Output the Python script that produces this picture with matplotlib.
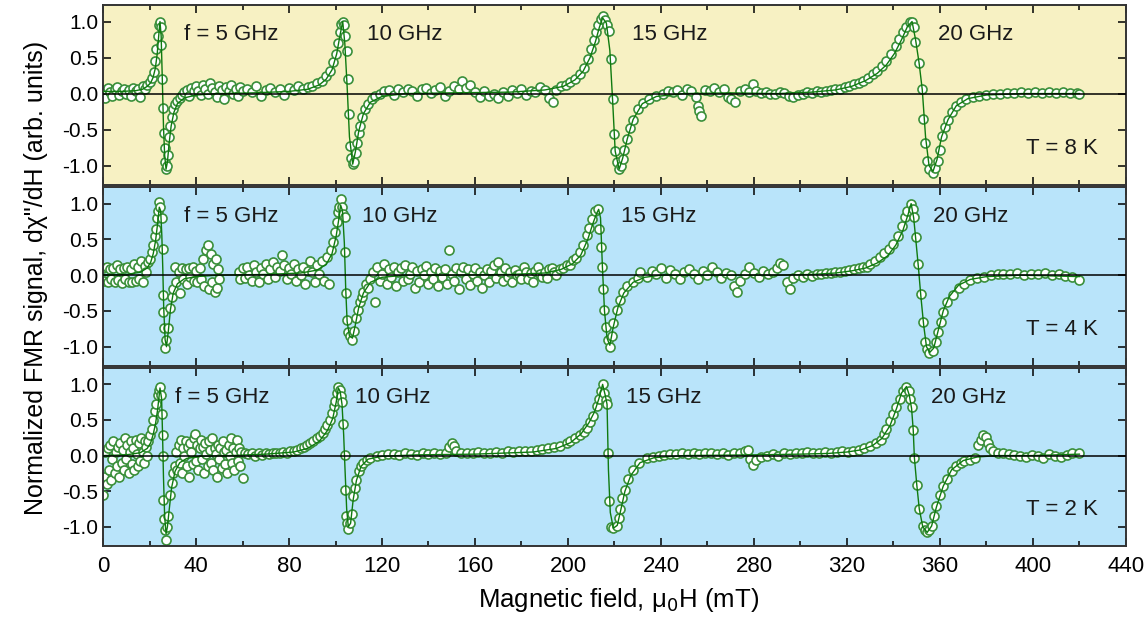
import matplotlib
matplotlib.use('Agg')
import matplotlib.pyplot as plt
from matplotlib.ticker import MultipleLocator

plt.rcParams['font.family'] = ['Liberation Sans', 'DejaVu Sans']

pts_8K = [(0, 0.05), (1, -0.06), (2, 0.08), (3, 0.02), (4, -0.04), (5, 0.06), (6, 0.09), (7, -0.02), (8, 0.04),
          (9, 0.07), (10, 0.0), (11, 0.05), (12, -0.03), (13, 0.08), (14, 0.03), (15, 0.06), (16, -0.05), (17, 0.1),
          (18, 0.07), (19, 0.12), (20, 0.16), (21, 0.22), (21.8, 0.3), (22.5, 0.45), (23, 0.62), (23.5, 0.8),
          (24, 0.95), (24.5, 1.0), (24.8, 0.92), (25.1, 0.68), (25.4, 0.2), (25.8, -0.2), (26.1, -0.55),
          (26.5, -0.75), (26.8, -0.95), (27.2, -1.05), (27.6, -1.0), (28, -0.85), (28.5, -0.6), (29, -0.45),
          (29.6, -0.32), (30.3, -0.22), (31, -0.15), (32, -0.1), (33, -0.06), (34, -0.02), (35, 0.02), (36, 0.05),
          (37, -0.04), (38, 0.08), (39, 0.03), (40, 0.1), (41, 0.04), (42, -0.02), (43, 0.12), (44, 0.06), (45, 0.0),
          (46, 0.15), (47, 0.08), (48, 0.02), (49, -0.05), (50, 0.1), (51, 0.05), (52, -0.08), (53, 0.09), (54, 0.03),
          (55, 0.12), (56, 0.0), (57, 0.06), (58, -0.03), (59, 0.09), (60, 0.04), (62, 0.07), (64, 0.02), (66, 0.1),
          (68, -0.04), (70, 0.05), (72, 0.08), (74, 0.02), (76, 0.06), (78, -0.02), (80, 0.08), (82, 0.05), (84, 0.1),
          (86, 0.06), (88, 0.09), (90, 0.11), (92, 0.14), (94, 0.18), (96, 0.24), (97.5, 0.32), (99, 0.44),
          (100, 0.55), (101, 0.7), (101.8, 0.85), (102.5, 0.96), (103.1, 1.0), (103.6, 0.95), (104.2, 0.8),
          (104.8, 0.59), (105.2, 0.2), (105.8, -0.29), (106.2, -0.73), (106.8, -0.9), (107.4, -0.98), (108, -0.95),
          (108.6, -0.82), (109.3, -0.68), (110, -0.55), (110.5, -0.45), (111.5, -0.33), (112.7, -0.22),
          (114, -0.14), (115.5, -0.07), (117, -0.04), (119, 0.0), (121, 0.03), (123, 0.05), (125, -0.02), (127, 0.06),
          (129, 0.02), (131, 0.07), (133, 0.04), (135, -0.03), (137, 0.06), (139, 0.08), (141, 0.01), (143, 0.05),
          (145, 0.09), (147, -0.04), (149, 0.03), (151, 0.1), (153, 0.06), (154.5, 0.18), (156, 0.08), (158, 0.12),
          (160, 0.02), (162, -0.05), (164, 0.04), (166, -0.03), (168, 0.0), (170, -0.06), (172, 0.02), (174, -0.04),
          (176, 0.05), (178, 0.01), (180, 0.07), (182, -0.02), (184, 0.04), (186, 0.02), (188, 0.09), (190, 0.05),
          (192, -0.06), (193.5, -0.12), (195, 0.05), (197, 0.1), (199, 0.12), (201, 0.16), (203, 0.2), (205, 0.27),
          (207, 0.36), (208.5, 0.48), (210, 0.62), (211, 0.74), (212, 0.86), (213, 0.95), (214, 1.04), (214.9, 1.08),
          (215.8, 1.02), (216.7, 0.95), (217.6, 0.87), (218.4, 0.48), (219.2, -0.08), (219.6, -0.56), (220.3, -0.8),
          (220.9, -0.95), (222, -1.05), (222.8, -1.0), (223.5, -0.91), (224.3, -0.78), (225.2, -0.63),
          (226.5, -0.48), (228, -0.36), (230, -0.22), (232.4, -0.13), (235, -0.07), (238, -0.03), (241, 0.0),
          (243, 0.04), (245, 0.02), (247, 0.05), (249, -0.02), (251, 0.06), (253, 0.03), (255, -0.05), (256, -0.17),
          (256.5, -0.24), (257, -0.31), (259, 0.05), (261, 0.03), (263, 0.08), (265, 0.02), (267, 0.06), (269, -0.05),
          (270, -0.08), (272, -0.12), (274, 0.04), (276, 0.07), (278, 0.02), (279.6, 0.13), (281, 0.03), (283, 0.01),
          (285, 0.02), (287, -0.01), (289, 0.0), (291, 0.02), (293, 0.01), (295, -0.03), (297, -0.05), (299, -0.02),
          (301, 0.0), (303, 0.02), (305, 0.01), (307, 0.03), (309, 0.02), (311, 0.04), (313, 0.05), (315, 0.06),
          (317, 0.07), (319, 0.09), (321, 0.11), (323, 0.13), (325, 0.15), (327, 0.18), (329, 0.22), (331, 0.27),
          (333, 0.32), (335, 0.38), (337, 0.45), (339, 0.55), (341, 0.66), (342.5, 0.76), (344, 0.85), (345.5, 0.93),
          (347, 0.99), (348, 1.0), (348.7, 0.92), (349.3, 0.72), (351, 0.43), (352.4, 0.06), (352.8, -0.35),
          (353.5, -0.68), (354.5, -0.94), (355.5, -1.05), (357, -1.1), (358, -1.04), (359.1, -0.94), (360, -0.78),
          (360.7, -0.59), (362, -0.47), (363.5, -0.36), (365, -0.26), (367, -0.17), (369, -0.12), (371.4, -0.08),
          (374, -0.05), (377, -0.03), (380, -0.02), (383, -0.01), (386, 0.0), (389, 0.01), (392, 0.01), (395, 0.02),
          (398, 0.01), (401, 0.02), (404, 0.01), (407, 0.02), (410, 0.01), (413, 0.02), (416, 0.01), (419, 0.01),
          (420, 0.0)]

pts_4K = [(0, 0.1), (0.5, -0.08), (1.5, 0.12), (2, -0.1), (3, 0.08), (3.5, -0.06), (4.5, 0.1), (5, -0.1), (6, 0.14),
          (6.5, -0.07), (7.5, 0.09), (8, -0.11), (9, 0.1), (9.5, -0.05), (10.5, 0.12), (11, -0.09), (12, 0.08),
          (12.5, -0.1), (13.5, 0.15), (14, -0.08), (15, 0.11), (15.5, -0.06), (16.5, 0.2), (17, -0.09), (18, 0.13),
          (18.5, 0.05), (19.3, 0.18), (20.2, 0.23), (21, 0.32), (21.6, 0.42), (22.3, 0.55), (22.8, 0.65),
          (23.4, 0.8), (23.8, 0.9), (24.2, 1.02), (24.7, 0.95), (25.2, 0.8), (25.6, 0.37), (25.8, -0.28),
          (26, -0.51), (26.3, -0.74), (26.7, -1.02), (27.2, -0.9), (28.1, -0.74), (28.8, -0.46), (29.5, -0.3),
          (30.2, -0.19), (31, 0.12), (31.5, -0.1), (32.5, 0.05), (33, -0.25), (34, 0.1), (34.5, -0.05), (35.5, 0.08),
          (36, -0.12), (37, 0.1), (37.5, -0.03), (38.5, 0.12), (39, -0.08), (40, 0.06), (40.5, -0.1), (41.5, 0.1),
          (42, -0.05), (43, 0.22), (43.5, -0.15), (44.5, 0.35), (45, 0.42), (45.5, -0.2), (46.5, 0.3), (47, -0.1),
          (47.5, 0.15), (48, -0.23), (48.5, 0.22), (49, -0.18), (49.5, 0.08), (50, -0.05), (58.5, 0.05),
          (59, -0.06), (60, 0.1), (61, -0.04), (62, 0.12), (63, 0.0), (64, -0.08), (65, 0.14), (66, 0.04), (67, -0.1),
          (68, 0.1), (69, 0.02), (70, 0.16), (71, -0.05), (72, 0.08), (73, 0.18), (74, -0.02), (75, 0.12), (76, 0.06),
          (76.8, 0.28), (78, 0.14), (79, -0.06), (80, 0.1), (81, 0.02), (82, 0.15), (83, -0.08), (84, 0.08), (85, 0.0),
          (86, 0.12), (87, -0.12), (88, 0.06), (89, 0.2), (90, 0.04), (91, -0.1), (92, 0.14), (93, 0.02), (94, 0.2),
          (95, -0.08), (96.2, 0.25), (97, -0.12), (98, 0.35), (99, 0.46), (99.8, 0.6), (100.5, 0.74), (101.2, 0.88),
          (101.7, 0.95), (102.2, 1.06), (102.8, 0.95), (103.4, 0.86), (104, 0.81), (104.2, 0.32), (104.5, -0.25),
          (104.8, -0.63), (105.5, -0.79), (106.3, -0.85), (107.3, -0.9), (108, -0.78), (109, -0.6), (109.8, -0.48),
          (110.5, -0.37), (111.2, -0.3), (112, -0.23), (113, -0.12), (114, -0.18), (115, -0.05), (116, 0.04),
          (117, -0.37), (118, 0.12), (119, -0.08), (120, 0.02), (121, 0.15), (122, -0.12), (123, 0.08), (124, -0.02),
          (125, 0.12), (126, -0.15), (127, 0.05), (128, 0.1), (129, -0.08), (130, 0.14), (131, -0.05), (132, 0.02),
          (133, 0.12), (134, -0.18), (135, 0.06), (136, -0.1), (137, 0.08), (138, 0.0), (139, 0.13), (140, -0.12),
          (141, 0.04), (142, -0.06), (143, 0.1), (144, -0.15), (145, 0.06), (146, -0.02), (147, 0.09), (148, -0.12),
          (149, 0.35), (150, 0.02), (151, -0.08), (152, 0.1), (153, -0.2), (154, 0.04), (155, 0.12), (156, -0.06),
          (157, 0.08), (158, -0.14), (159, 0.02), (160, 0.1), (161, -0.08), (162, 0.05), (163, -0.18), (164, 0.0),
          (165, 0.08), (166, -0.1), (167, 0.06), (168, 0.14), (169, -0.04), (170, 0.18), (171, 0.04), (172, -0.08),
          (173, 0.1), (174, -0.03), (175, 0.05), (176, -0.1), (177, 0.07), (178, 0.0), (179, 0.02), (180, -0.06),
          (181, 0.12), (182, 0.04), (183, -0.05), (184, 0.03), (185, -0.1), (186, 0.06), (187, 0.12), (188, 0.02),
          (189, -0.02), (190, 0.05), (191, -0.04), (192, 0.08), (193, 0.1), (194, 0.05), (195, 0.0), (196.6, 0.09),
          (198, 0.1), (199.5, 0.14), (201, 0.14), (202.3, 0.21), (203.5, 0.24), (205.2, 0.32), (206.5, 0.42),
          (208, 0.56), (209, 0.66), (210.2, 0.79), (211.6, 0.9), (213, 0.93), (213.5, 0.65), (214.2, 0.4),
          (214.8, 0.12), (215.2, -0.2), (215.5, -0.49), (216.2, -0.72), (217, -0.9), (218, -1.0), (218.8, -0.85),
          (219.5, -0.67), (221, -0.49), (222.3, -0.35), (223.8, -0.23), (225.5, -0.15), (228, -0.09), (230, -0.04),
          (231, 0.05), (233.8, -0.02), (236, 0.06), (238, 0.02), (240, 0.1), (242, -0.04), (244, 0.07), (246, 0.02),
          (248, -0.06), (250, 0.04), (252, 0.08), (254, 0.01), (256, -0.05), (258, 0.06), (260, 0.0), (262, 0.12),
          (264, 0.05), (266, -0.04), (268, 0.03), (270, 0.0), (271.5, -0.15), (272.5, -0.23), (274, -0.08),
          (276, 0.02), (278, 0.12), (280, 0.03), (282, -0.02), (284, 0.06), (286, 0.02), (288, 0.04), (290, 0.1),
          (291, 0.17), (292.6, 0.14), (294, -0.1), (295.5, -0.19), (297, -0.04), (299, 0.0), (301, -0.02),
          (303, 0.01), (305, -0.01), (307, 0.02), (309, 0.02), (311, 0.03), (313, 0.03), (315, 0.04), (317, 0.05),
          (319, 0.06), (321, 0.07), (323, 0.08), (325, 0.1), (327, 0.11), (328.5, 0.12), (330, 0.16), (332, 0.2),
          (334.2, 0.25), (336, 0.31), (338, 0.37), (340, 0.44), (341.8, 0.55), (343.5, 0.69), (345, 0.82), (346, 0.9),
          (347.4, 1.0), (348.2, 0.92), (348.8, 0.81), (349.5, 0.53), (350.7, 0.15), (351.7, -0.27), (352.8, -0.65),
          (353.5, -0.93), (354.5, -1.03), (355.4, -1.09), (357, -1.06), (358.2, -0.94), (359.3, -0.79),
          (360.3, -0.65), (361.4, -0.51), (363, -0.38), (365.6, -0.28), (368, -0.18), (370.5, -0.12), (372.9, -0.07),
          (376, -0.04), (379, -0.02), (382, 0.0), (385, 0.01), (387.2, 0.02), (390, 0.01), (393, 0.03), (396, 0.0),
          (399, 0.02), (402, 0.01), (405, 0.03), (408, 0.0), (411, 0.01), (414, -0.01), (417, -0.03), (419.9, -0.07)]

pts_2K = [(0, -0.55), (0.5, -0.3), (1, 0.05), (1.5, -0.4), (2, 0.1), (2.5, -0.2), (3, 0.15), (3.5, -0.35), (4, -0.05),
          (4.5, 0.2), (5, -0.25), (5.5, 0.05), (6, -0.15), (6.5, 0.12), (7, -0.3), (7.5, 0.18), (8, -0.1), (8.5, 0.08),
          (9, -0.2), (9.5, 0.24), (10, -0.05), (10.5, 0.15), (11, -0.25), (11.5, 0.05), (12, 0.2), (12.5, -0.12),
          (13, 0.1), (13.5, -0.2), (14, 0.22), (14.5, 0.02), (15, -0.15), (15.5, 0.18), (16, -0.08), (16.5, 0.25),
          (17, 0.05), (17.5, -0.1), (18, 0.2), (18.5, 0.12), (19, 0.0), (19.5, 0.2), (20.2, 0.29), (21, 0.38),
          (21.6, 0.5), (22.3, 0.62), (23, 0.73), (23.6, 0.85), (24.1, 0.92), (24.5, 0.96), (25, 0.85), (25.4, 0.59),
          (25.6, 0.29), (25.8, 0.0), (26, -0.62), (26.2, -0.89), (26.6, -1.05), (27.1, -1.19), (27.6, -1.0),
          (28.1, -0.85), (28.8, -0.55), (29.5, -0.38), (30.2, -0.25), (31, -0.15), (31.5, 0.05), (32, -0.2),
          (32.5, 0.15), (33, -0.1), (33.5, 0.22), (34, -0.25), (34.5, 0.1), (35, 0.0), (35.5, 0.2), (36, -0.15),
          (36.5, 0.12), (37, -0.3), (37.5, 0.18), (38, 0.05), (38.5, -0.12), (39, 0.25), (39.6, 0.31), (40, -0.08),
          (40.5, 0.15), (41, -0.2), (41.5, 0.1), (42, 0.22), (42.5, -0.05), (43, 0.12), (43.5, -0.25), (44, 0.18),
          (44.5, 0.02), (45, -0.15), (45.5, 0.2), (46, 0.08), (46.5, -0.1), (47, 0.25), (47.5, -0.2), (48, 0.1),
          (48.5, 0.02), (49, -0.3), (49.5, 0.15), (50, -0.05), (50.5, 0.1), (51, -0.18), (51.5, 0.2), (52, 0.05),
          (52.5, -0.12), (53, 0.08), (53.5, -0.25), (54, 0.15), (54.5, 0.0), (55, 0.25), (55.5, -0.1), (56, 0.1),
          (56.5, -0.2), (57, 0.05), (57.5, 0.22), (58, -0.08), (58.5, 0.1), (59, -0.15), (59.5, 0.05), (60.3, -0.31),
          (61, 0.04), (62.5, 0.02), (64, 0.03), (65.5, 0.0), (67, 0.03), (68.5, 0.01), (70, 0.04), (71.5, 0.02),
          (73, 0.03), (74.5, 0.04), (76, 0.03), (77.5, 0.05), (79, 0.04), (80.5, 0.06), (82, 0.07), (83.5, 0.08),
          (85, 0.1), (86.5, 0.12), (87.6, 0.15), (89, 0.18), (90.5, 0.21), (92, 0.24), (93.3, 0.28), (94.5, 0.32),
          (95.5, 0.37), (96.5, 0.43), (97.6, 0.5), (98.5, 0.6), (99.2, 0.7), (99.8, 0.77), (100.5, 0.88),
          (101.2, 0.96), (101.8, 0.92), (102.2, 0.84), (102.6, 0.75), (103.3, 0.45), (104, 0.01), (104.2, -0.48),
          (104.5, -0.85), (105, -0.95), (105.5, -1.03), (106.2, -0.95), (106.9, -0.82), (107.6, -0.57),
          (108.3, -0.45), (109, -0.34), (110, -0.22), (111, -0.15), (111.9, -0.11), (113.5, -0.06), (115, -0.04),
          (117.7, -0.01), (120, 0.01), (122.5, 0.02), (125, 0.02), (127.5, 0.01), (130, 0.03), (132.5, 0.02),
          (135, 0.01), (137.5, 0.03), (140, 0.02), (142.5, 0.03), (145, 0.02), (147.5, 0.04), (149, 0.12),
          (150, 0.17), (151, 0.14), (152, 0.06), (154, 0.03), (156.5, 0.04), (159, 0.03), (161.5, 0.05), (164, 0.04),
          (166.5, 0.03), (169, 0.05), (171.5, 0.04), (174, 0.06), (176.5, 0.05), (179, 0.06), (181.5, 0.07),
          (184, 0.06), (186.5, 0.08), (189, 0.09), (191.5, 0.1), (194, 0.12), (196.5, 0.14), (199.4, 0.17),
          (201, 0.2), (203, 0.24), (205.2, 0.29), (206.8, 0.33), (208, 0.39), (209.5, 0.47), (210.8, 0.56),
          (212.3, 0.7), (213.2, 0.8), (214, 0.91), (214.9, 1.0), (215.6, 0.88), (216.2, 0.78), (216.6, 0.73),
          (217, 0.04), (217.5, -0.64), (218.4, -1.01), (219.5, -1.02), (221.2, -0.99), (221.8, -0.88),
          (222.4, -0.75), (223.4, -0.6), (224.5, -0.48), (226, -0.33), (228, -0.2), (230.5, -0.1), (233.8, -0.04),
          (236.5, -0.02), (239, 0.0), (241.5, 0.01), (244, 0.02), (246.5, 0.02), (249, 0.03), (251.5, 0.02),
          (254, 0.03), (256.5, 0.02), (259, 0.03), (261.5, 0.04), (264, 0.02), (266.5, 0.03), (269, 0.01),
          (271.5, 0.03), (274, 0.04), (276, 0.06), (277.5, 0.08), (278.5, -0.05), (279.7, -0.13), (281, -0.06),
          (283, -0.02), (285.5, 0.0), (288, 0.02), (290.5, 0.0), (293, 0.03), (295.5, 0.02), (298, 0.04),
          (300.5, 0.03), (303, 0.05), (305.5, 0.04), (308, 0.03), (310.5, 0.05), (313, 0.04), (315.5, 0.05),
          (318, 0.06), (320.5, 0.05), (322.7, 0.06), (325, 0.08), (327.5, 0.1), (330, 0.13), (332.7, 0.17),
          (334.5, 0.22), (336, 0.3), (337, 0.38), (338.5, 0.48), (340, 0.58), (341.3, 0.68), (342.8, 0.8),
          (344.2, 0.91), (345.6, 0.97), (346.5, 0.9), (347.2, 0.8), (347.8, 0.68), (348.5, 0.36), (348.9, -0.03),
          (350, -0.41), (351.1, -0.75), (352.6, -0.99), (353.5, -1.05), (354.5, -1.08), (355.5, -1.05),
          (356.4, -0.99), (357.5, -0.85), (358.5, -0.71), (360, -0.56), (361.4, -0.43), (363, -0.33), (365, -0.22),
          (367.1, -0.15), (369, -0.11), (370.5, -0.08), (372.9, -0.06), (375, -0.03), (376.5, 0.15), (377.5, 0.22),
          (378.6, 0.29), (379.8, 0.26), (380.5, 0.18), (381.5, 0.1), (383, 0.06), (385, 0.04), (387.2, 0.03),
          (389.5, 0.02), (392, 0.01), (394.5, 0.0), (397, -0.02), (399.5, 0.01), (402, 0.0), (404.5, -0.03),
          (407, 0.02), (409.5, 0.0), (412, -0.02), (414.5, 0.01), (417, 0.03), (420, 0.03)]

# fitted curves (thin line)
fit_8K = [(0, 0.03), (8, 0.03), (14, 0.04), (17, 0.06), (19, 0.1), (20.5, 0.15), (21.5, 0.22), (22.5, 0.35),
          (23.3, 0.55), (24, 0.82), (24.5, 1.0), (25, 0.8), (25.5, 0.2), (26, -0.45), (26.5, -0.85), (27.1, -1.05),
          (27.7, -0.95), (28.4, -0.7), (29.3, -0.45), (30.5, -0.26), (32, -0.14), (35, -0.06), (40, -0.02),
          (50, 0.0), (65, 0.01), (80, 0.03), (88, 0.06), (93, 0.12), (96, 0.2), (98.5, 0.33), (100.5, 0.55),
          (102, 0.82), (103.1, 1.0), (104, 0.7), (105, 0.1), (106, -0.6), (107.4, -0.98), (108.6, -0.8),
          (110, -0.52), (112, -0.28), (115, -0.12), (120, -0.04), (130, 0.0), (150, 0.01), (175, 0.02), (190, 0.05),
          (198, 0.1), (203, 0.19), (206.5, 0.31), (209.5, 0.5), (211.8, 0.72), (213.5, 0.92), (214.9, 1.05),
          (216.5, 0.98), (218, 0.6), (219.2, -0.1), (220.3, -0.8), (222, -1.05), (223.5, -0.9), (225.5, -0.63),
          (228, -0.36), (232, -0.14), (238, -0.04), (250, 0.0), (270, 0.01), (290, 0.0), (305, 0.02), (315, 0.05),
          (322, 0.1), (328, 0.18), (333, 0.28), (337, 0.4), (340.5, 0.56), (343.5, 0.75), (346, 0.93), (348, 1.0),
          (349.5, 0.75), (351, 0.43), (352.4, 0.05), (353.8, -0.6), (355.3, -1.0), (357, -1.08), (358.7, -0.92),
          (360.7, -0.6), (363.5, -0.36), (367, -0.17), (372, -0.07), (380, -0.02), (395, 0.0), (420, 0.0)]

fit_4K = [(0, 0.0), (10, 0.01), (16, 0.04), (19, 0.1), (20.5, 0.18), (21.6, 0.3), (22.6, 0.48), (23.4, 0.7),
          (24.2, 0.95), (24.8, 0.9), (25.3, 0.55), (25.7, 0.1), (26.1, -0.45), (26.7, -0.9), (27.3, -1.0),
          (28.1, -0.78), (29, -0.48), (30.2, -0.25), (32, -0.12), (35, -0.05), (40, -0.02), (50, 0.0), (70, 0.01),
          (85, 0.03), (92, 0.07), (96, 0.15), (98.5, 0.3), (100.3, 0.55), (101.5, 0.8), (102.2, 0.98), (103, 0.9),
          (103.8, 0.45), (104.4, -0.2), (105, -0.65), (106, -0.85), (107.3, -0.88), (108.5, -0.7), (110, -0.45),
          (112, -0.25), (115, -0.1), (120, -0.03), (130, 0.0), (150, 0.0), (175, 0.01), (190, 0.03), (197, 0.08),
          (202, 0.16), (205.5, 0.28), (208.5, 0.5), (210.8, 0.73), (212.3, 0.86), (213.2, 0.92), (214, 0.8),
          (214.8, 0.12), (215.7, -0.5), (216.8, -0.88), (218, -0.98), (219.5, -0.72), (221.5, -0.45), (224, -0.25),
          (228, -0.1), (233, -0.03), (240, 0.0), (260, 0.0), (290, 0.0), (305, 0.01), (315, 0.03), (322, 0.06),
          (328, 0.1), (333, 0.17), (337.5, 0.27), (341, 0.42), (344, 0.62), (346.3, 0.85), (347.6, 1.0),
          (348.7, 0.8), (349.6, 0.5), (350.7, 0.12), (351.8, -0.3), (353, -0.7), (354.2, -1.0), (355.6, -1.08),
          (357.3, -1.02), (359.2, -0.78), (361.4, -0.5), (364, -0.3), (368, -0.14), (373, -0.06), (380, -0.02),
          (395, 0.0), (420, -0.02)]

fit_2K = [(0, 0.0), (10, 0.01), (16, 0.04), (19, 0.1), (20.5, 0.18), (21.6, 0.3), (22.6, 0.45), (23.5, 0.65),
          (24.5, 0.95), (25.2, 0.8), (25.6, 0.3), (26, -0.3), (26.5, -0.85), (27.1, -1.1), (27.7, -1.0),
          (28.5, -0.75), (29.5, -0.45), (31, -0.22), (33, -0.1), (36, -0.04), (42, -0.01), (55, 0.0), (70, 0.02),
          (82, 0.05), (88, 0.1), (93, 0.2), (96.5, 0.35), (98.8, 0.52), (100.3, 0.75), (101.2, 0.95), (102, 0.9),
          (102.8, 0.72), (103.5, 0.3), (104.1, -0.2), (104.8, -0.75), (105.5, -1.0), (106.5, -0.95),
          (107.6, -0.62), (109, -0.35), (111, -0.15), (114, -0.05), (120, -0.01), (135, 0.01), (160, 0.02),
          (185, 0.05), (195, 0.1), (201, 0.18), (205.5, 0.3), (209, 0.46), (211.5, 0.62), (213.3, 0.8), (214.9, 1.0),
          (216, 0.85), (216.8, 0.72), (217.4, -0.2), (218.2, -0.8), (219.5, -1.02), (221.2, -0.98), (222.6, -0.78),
          (224.5, -0.5), (227, -0.28), (231, -0.1), (237, -0.03), (250, 0.0), (280, 0.01), (300, 0.02), (312, 0.03),
          (320, 0.05), (326, 0.08), (331, 0.14), (335, 0.24), (338.5, 0.42), (341.3, 0.66), (343.5, 0.88),
          (345.6, 0.97), (346.8, 0.85), (347.8, 0.66), (348.5, 0.36), (349, -0.03), (350, -0.4), (351.1, -0.75),
          (352.6, -1.0), (354.5, -1.08), (356.4, -0.99), (358.5, -0.72), (361.4, -0.43), (365, -0.2), (370, -0.07),
          (376, -0.02), (385, 0.0), (400, 0.0), (420, 0.02)]

temperatures = ['T = 8 K', 'T = 4 K', 'T = 2 K']
freq_labels = ['f = 5 GHz', '10 GHz', '15 GHz', '20 GHz']
label_pos = [[35, 113.5, 227.5, 359], [35, 111.5, 223, 357], [31, 108.5, 225, 356]]

panels = [pts_8K, pts_4K, pts_2K]
fits = [fit_8K, fit_4K, fit_2K]
bg_colors = ['#f7f1c3', '#b9e4fa', '#b9e4fa']

fig = plt.figure(figsize=(11.46, 6.21), dpi=100)
rects = [[0.0899, 0.702, 0.8926, 0.290],
         [0.0899, 0.4106, 0.8926, 0.288],
         [0.0899, 0.1208, 0.8926, 0.2866]]

for i in range(3):
    ax = fig.add_axes(rects[i])
    ax.set_facecolor(bg_colors[i])
    x, y = zip(*panels[i])
    fx, fy = zip(*fits[i])
    ax.plot(x, y, 'o', ms=6.5, mfc='white', mec='#3a8f3a', mew=1.2, zorder=2)
    ax.plot(fx, fy, '-', color='#0f7a0f', lw=1.0, zorder=3)
    ax.axhline(0, color='black', lw=1.1, zorder=4)
    ax.set_xlim(0, 440)
    ax.set_ylim(-1.27, 1.23)
    ax.xaxis.set_major_locator(MultipleLocator(40))
    ax.xaxis.set_minor_locator(MultipleLocator(20))
    ax.tick_params(which='both', direction='in', top=True, right=True, labelsize=15, width=1.1)
    ax.tick_params(which='major', length=6)
    ax.tick_params(which='minor', length=3.5)
    for s in ax.spines.values():
        s.set_linewidth(1.4)
        s.set_color('#333333')
    ax.set_yticks([-1.0, -0.5, 0.0, 0.5, 1.0])
    ax.set_yticklabels(['-1.0', '-0.5', '0.0', '0.5', '1.0'])
    for lab, xp in zip(freq_labels, label_pos[i]):
        ax.text(xp, 0.82, lab, fontsize=16, color='#1a1a1a', va='center', zorder=5)
    ax.text(428, -0.76, temperatures[i], fontsize=16, color='#1a1a1a', ha='right', va='center', zorder=5)
    if i < 2:
        ax.tick_params(labelbottom=False)
    else:
        ax.set_xticks(range(0, 441, 40))
        ax.set_xticklabels([str(v) for v in range(0, 441, 40)], fontsize=16)
        ax.tick_params(axis='x', pad=7)

fig.text(0.54, 0.034, 'Magnetic field, μ$_0$H (mT)', ha='center', va='center', fontsize=18.5)
fig.text(0.031, 0.553, 'Normalized FMR signal, dχ"/dH (arb. units)', rotation=90, ha='center', va='center',
         fontsize=18)

fig.savefig('out.png', dpi=100)
